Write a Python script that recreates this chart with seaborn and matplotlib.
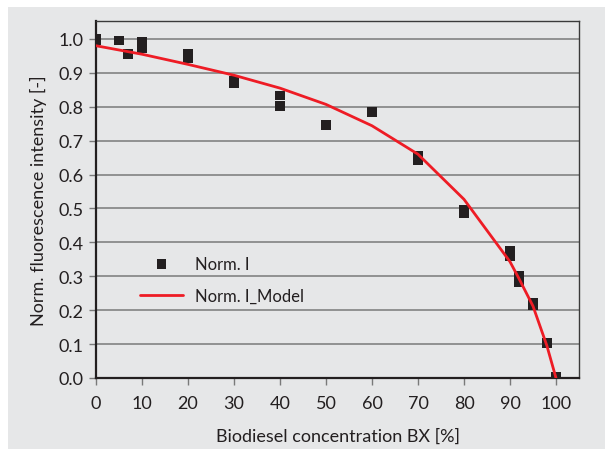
import matplotlib
matplotlib.use("Agg")
import matplotlib.pyplot as plt
from matplotlib.patches import Rectangle
import seaborn as sns
import pandas as pd

# measured data
x_meas = [0, 0, 5, 7, 10, 10, 20, 20, 30, 30, 40, 40, 50, 60, 70, 70, 80, 80,
          90, 90, 92, 92, 95, 95, 98, 100]
y_meas = [1.0, 0.995, 0.995, 0.956, 0.993, 0.972, 0.955, 0.943, 0.878, 0.870,
          0.833, 0.803, 0.746, 0.785, 0.655, 0.643, 0.497, 0.485,
          0.375, 0.360, 0.300, 0.282, 0.222, 0.215, 0.104, 0.003]

# model curve
x_model = [0, 10, 20, 30, 40, 50, 60, 70, 80, 90, 92, 95, 98, 100]
y_model = [0.980, 0.955, 0.925, 0.893, 0.855, 0.807, 0.744, 0.660, 0.527,
           0.343, 0.292, 0.212, 0.096, 0.0]

x_ticks = [0, 10, 20, 30, 40, 50, 60, 70, 80, 90, 100]
y_ticks = [0.0, 0.1, 0.2, 0.3, 0.4, 0.5, 0.6, 0.7, 0.8, 0.9, 1.0]

sns.set_theme(style="white")
plt.rcParams['font.family'] = ['Lato', 'DejaVu Sans']

BG = '#e6e7e8'
DARK = '#231f20'

fig = plt.figure(figsize=(6.05, 4.52), dpi=100, facecolor='white')
fig.patches.append(Rectangle((8 / 605, 2 / 452), 597 / 605, 442 / 452,
                             transform=fig.transFigure, facecolor=BG,
                             edgecolor='none', zorder=-10))
ax = fig.add_axes([96 / 605, 73 / 452, 483 / 605, 357 / 452])
ax.set_facecolor(BG)

df_meas = pd.DataFrame({'x': x_meas, 'y': y_meas})
df_model = pd.DataFrame({'x': x_model, 'y': y_model})

sns.scatterplot(data=df_meas, x='x', y='y', marker='s', s=48, color=DARK,
                edgecolor='none', ax=ax, label='Norm. I', zorder=3)
sns.lineplot(data=df_model, x='x', y='y', color='#ee1c25', linewidth=2.0,
             ax=ax, label='Norm. I_Model', zorder=4)

ax.set_xlim(0, 105)
ax.set_ylim(0, 1.053)
ax.set_xticks(x_ticks)
ax.set_yticks(y_ticks)
ax.set_xticklabels([str(t) for t in x_ticks])
ax.set_yticklabels([f"{t:.1f}" for t in y_ticks])
ax.yaxis.grid(True, color='#8a8a8a', linewidth=1.3)
ax.xaxis.grid(False)
ax.set_axisbelow(True)

for side in ['left', 'bottom']:
    ax.spines[side].set_color(DARK)
    ax.spines[side].set_linewidth(1.6)
for side in ['top', 'right']:
    ax.spines[side].set_color('#3a3a3a')
    ax.spines[side].set_linewidth(1.0)

ax.tick_params(axis='x', which='major', direction='out', length=5,
               width=1.0, color='#7a7a7a', labelsize=13, labelcolor=DARK,
               bottom=True, pad=7)
ax.tick_params(axis='y', which='major', direction='out', length=5,
               width=1.0, color='#7a7a7a', labelsize=13, labelcolor=DARK,
               left=True, pad=4)

ax.set_xlabel('Biodiesel concentration BX [%]', fontsize=13, color=DARK,
              labelpad=12)
ax.set_ylabel('Norm. fluorescence intensity [-]', fontsize=13, color=DARK,
              labelpad=8)

leg = ax.legend(loc='upper left', bbox_to_anchor=(0.06, 0.385),
                frameon=False, fontsize=12, handlelength=2.6,
                labelspacing=1.0, handletextpad=0.7, markerscale=1.0)
for t in leg.get_texts():
    t.set_color(DARK)

fig.savefig('out.png', dpi=100, facecolor=fig.get_facecolor())
